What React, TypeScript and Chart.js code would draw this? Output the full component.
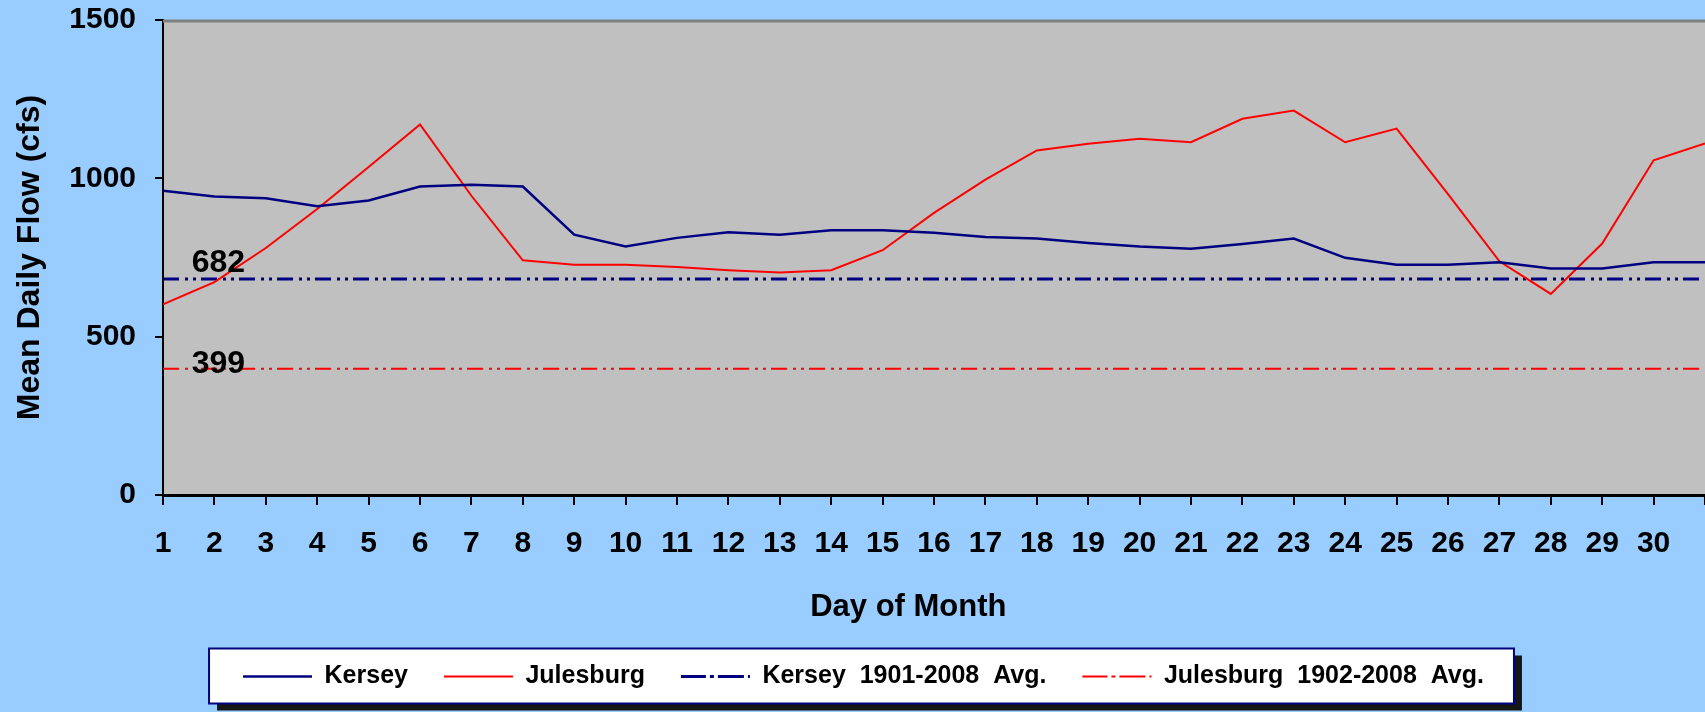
import { useEffect, useRef } from 'react';
import { Chart, registerables } from 'chart.js';

Chart.register(...registerables);

const days = [1, 2, 3, 4, 5, 6, 7, 8, 9, 10, 11, 12, 13, 14, 15, 16, 17, 18, 19, 20, 21, 22, 23, 24, 25, 26, 27, 28, 29, 30, 31];
const dayLabels = ['1', '2', '3', '4', '5', '6', '7', '8', '9', '10', '11', '12', '13', '14', '15', '16', '17', '18', '19', '20', '21', '22', '23', '24', '25', '26', '27', '28', '29', '30'];
const kerseyFlow = [961, 943, 937, 912, 930, 974, 980, 974, 822, 785, 812, 830, 822, 836, 836, 828, 815, 810, 796, 785, 778, 793, 810, 749, 727, 727, 735, 715, 715, 735, 735];
const julesburgFlow = [602, 672, 780, 903, 1036, 1170, 945, 741, 727, 727, 720, 710, 703, 710, 773, 891, 996, 1088, 1109, 1125, 1114, 1188, 1214, 1114, 1157, 950, 738, 635, 794, 1057, 1110];
const kerseyAvg = 682;
const julesburgAvg = 399;
const yMin = 0;
const yMax = 1500;
const yStep = 500;
const seriesNames = ['Kersey', 'Julesburg', 'Kersey  1901-2008  Avg.', 'Julesburg  1902-2008  Avg.'];
const xTitle = 'Day of Month';
const yTitle = 'Mean Daily Flow (cfs)';

const FONT = '"Liberation Sans", Arial, sans-serif';
const NAVY = '#000080';
const RED = '#FF0000';
const DASH = [16, 6, 3, 5, 3, 5];
const CANVAS_W = 1726;
const CANVAS_H = 712;

const decorPlugin = {
  id: 'decor',
  beforeDraw(chart: any) {
    const { ctx, chartArea: a } = chart;
    ctx.save();
    ctx.fillStyle = '#C0C0C0';
    ctx.fillRect(a.left, a.top, a.right - a.left, a.bottom - a.top);
    const lg = chart.legend;
    if (lg && lg.legendHitBoxes && lg.legendHitBoxes.length) {
      const hb = lg.legendHitBoxes;
      const l = Math.min(...hb.map((h: any) => h.left)) - 34;
      const r = Math.max(...hb.map((h: any) => h.left + h.width)) + 30;
      const cy = hb[0].top + hb[0].height / 2;
      const t = cy - 28;
      const b = cy + 27;
      ctx.fillStyle = '#161616';
      ctx.fillRect(l + 8, t + 7, r - l, b - t);
      ctx.fillStyle = '#FFFFFF';
      ctx.fillRect(l, t, r - l, b - t);
      ctx.strokeStyle = NAVY;
      ctx.lineWidth = 2;
      ctx.strokeRect(l, t, r - l, b - t);
    }
    ctx.restore();
  },
  afterDraw(chart: any) {
    const { ctx, chartArea: a } = chart;
    const xs = chart.scales.x;
    const ys = chart.scales.y;
    ctx.save();
    ctx.strokeStyle = '#808080';
    ctx.lineWidth = 3;
    ctx.beginPath();
    ctx.moveTo(a.left, a.top + 1);
    ctx.lineTo(a.right, a.top + 1);
    ctx.stroke();

    ctx.fillStyle = '#000';
    ctx.font = `bold 32px ${FONT}`;
    ctx.textAlign = 'center';
    ctx.textBaseline = 'alphabetic';
    const lx = xs.getPixelForValue(days[1]) + 4;
    ctx.fillText(String(kerseyAvg), lx, ys.getPixelForValue(kerseyAvg) - 7);
    ctx.fillText(String(julesburgAvg), lx, ys.getPixelForValue(julesburgAvg) + 4);

    ctx.font = `bold 31px ${FONT}`;
    const midDay = (Number(dayLabels[0]) + Number(dayLabels[dayLabels.length - 1])) / 2;
    ctx.fillText(xTitle, xs.getPixelForValue(midDay), a.bottom + 121);

    ctx.font = `bold 32px ${FONT}`;
    ctx.translate(a.left - 124.5, (a.top + a.bottom) / 2);
    ctx.rotate(-Math.PI / 2);
    ctx.fillText(yTitle, 0, 0);
    ctx.restore();
  },
};

export default function App() {
  const ref = useRef<HTMLCanvasElement | null>(null);

  useEffect(() => {
    if (!ref.current) return;
    const pts = (vals: number[]) => days.map((d, i) => ({ x: d, y: vals[i] }));
    const flat = (v: number) => [
      { x: days[0], y: v },
      { x: days[days.length - 1], y: v },
    ];
    const chart = new Chart(ref.current, {
      type: 'line',
      data: {
        datasets: [
          {
            label: seriesNames[0],
            data: pts(kerseyFlow),
            borderColor: NAVY,
            backgroundColor: NAVY,
            borderWidth: 2.5,
            pointRadius: 0,
            tension: 0,
          },
          {
            label: seriesNames[1],
            data: pts(julesburgFlow),
            borderColor: RED,
            backgroundColor: RED,
            borderWidth: 2,
            pointRadius: 0,
            tension: 0,
          },
          {
            label: seriesNames[2],
            data: flat(kerseyAvg),
            borderColor: NAVY,
            backgroundColor: NAVY,
            borderWidth: 3,
            borderDash: DASH,
            pointRadius: 0,
          },
          {
            label: seriesNames[3],
            data: flat(julesburgAvg),
            borderColor: RED,
            backgroundColor: RED,
            borderWidth: 2,
            borderDash: DASH,
            pointRadius: 0,
          },
        ],
      },
      options: {
        animation: false,
        responsive: false,
        devicePixelRatio: 1,
        layout: { padding: { top: 20, right: 5, bottom: 13, left: 6 } },
        plugins: {
          tooltip: { enabled: false },
          legend: {
            position: 'bottom',
            labels: {
              boxWidth: 69,
              boxHeight: 0,
              padding: 36,
              color: '#000',
              font: { family: FONT, size: 25, weight: 'bold' },
            },
          },
        },
        scales: {
          x: {
            type: 'linear',
            min: days[0],
            max: days[days.length - 1],
            afterFit: (s: any) => {
              s.height = 133;
            },
            ticks: {
              stepSize: 1,
              autoSkip: false,
              maxRotation: 0,
              padding: 21,
              color: '#000',
              font: { family: FONT, size: 30, weight: 'bold' },
              callback: (v: any) => dayLabels[Number(v) - 1] ?? '',
            },
            grid: { drawOnChartArea: false, tickLength: 10, color: '#000', lineWidth: 2 },
            border: { color: '#000', width: 3 },
          },
          y: {
            min: yMin,
            max: yMax,
            afterFit: (s: any) => {
              s.width = 157;
              s.paddingTop = 0;
              s.paddingBottom = 0;
            },
            ticks: {
              stepSize: yStep,
              padding: 19,
              color: '#000',
              font: { family: FONT, size: 30, weight: 'bold' },
              callback: (v: any) => String(v),
            },
            grid: { drawOnChartArea: false, tickLength: 8, color: '#000', lineWidth: 2 },
            border: { color: '#000', width: 2 },
          },
        },
      },
      plugins: [decorPlugin],
    } as any);
    return () => chart.destroy();
  }, []);

  return (
    <div
      style={{
        position: 'fixed',
        left: 0,
        top: 0,
        width: 1705,
        height: 712,
        overflow: 'hidden',
        background: '#99CCFF',
      }}
    >
      <canvas
        ref={ref}
        width={CANVAS_W}
        height={CANVAS_H}
        style={{ display: 'block', width: CANVAS_W, height: CANVAS_H }}
      />
    </div>
  );
}
